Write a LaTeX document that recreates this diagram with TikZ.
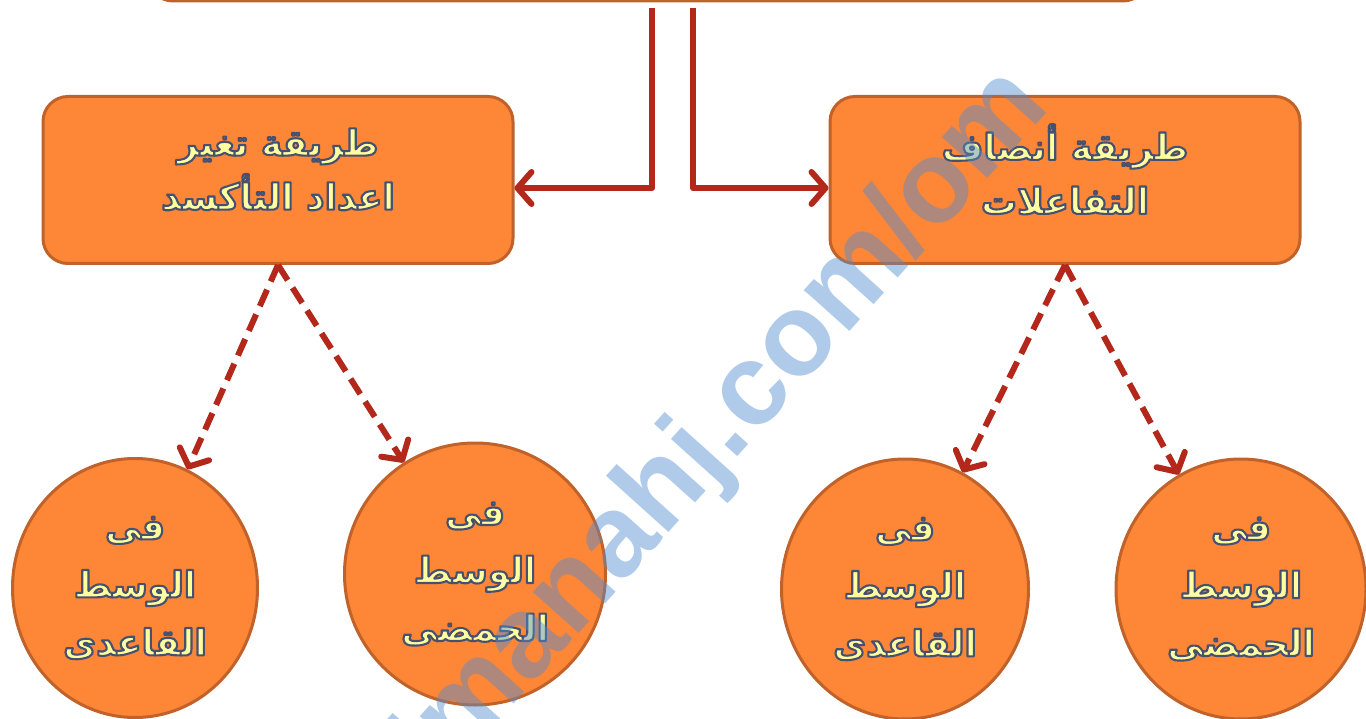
\documentclass[tikz,border=0pt]{standalone}
\usepackage{fontspec}
\usetikzlibrary{shapes.geometric,arrows.meta}
\TeXXeTstate=1
\newfontfamily\arfont[Script=Arabic]{DejaVu Sans}
\newfontfamily\wmfont{Liberation Sans}
\definecolor{boxfill}{RGB}{253,134,55}
\definecolor{boxedge}{RGB}{192,98,42}
\definecolor{arrowred}{RGB}{179,40,26}
\definecolor{txtyellow}{RGB}{255,255,160}
\definecolor{wmblue}{RGB}{80,140,210}
\newcommand{\gl}[1]{\special{pdf:literal direct q 0.275 0.314 0.44 RG 2.1 w 1 j 2 Tr}\beginR #1\endR\special{pdf:literal direct 0 Tr Q}}
\tikzset{
  rbox/.style={draw=boxedge, line width=3pt, fill=boxfill, rounded corners=25pt,
    minimum width=470pt, minimum height=167pt, text=txtyellow, text depth=22pt,
    font=\arfont\bfseries\fontsize{36}{54}\selectfont, align=center},
  oval/.style={ellipse, draw=boxedge, line width=3pt, fill=boxfill, inner sep=0pt,
    text=txtyellow, font=\arfont\bfseries\fontsize{36}{58}\selectfont, align=center},
  link/.style={draw=arrowred, line width=6pt, line join=round,
    -{Straight Barb[length=14pt,width=32pt,round]}},
  dlink/.style={link, dash pattern=on 18pt off 9pt}
}
\begin{document}
\begin{tikzpicture}[x=1pt,y=-1pt]
\path[use as bounding box] (0,0) rectangle (1366,719);
\clip (0,0) rectangle (1366,719);
\fill[white] (0,0) rectangle (1366,719);
\node[draw=boxedge, line width=3pt, fill=boxfill, rounded corners=25pt,
  minimum width=1000pt, minimum height=200pt] (top) at (648,-99) {};
\coordinate (tl) at (652,8);
\coordinate (tr) at (693,8);
\node[rbox] (lbox) at (278,180) {\gl{طريقة تغير}\\\gl{اعداد التأكسد}};
\node[rbox] (rbox) at (1065,180) {\gl{طريقة أنصاف}\\\gl{التفاعلات}};
\node[oval, minimum width=245pt, minimum height=259pt] (c1) at (135,588)
  {\gl{فى}\\\gl{الوسط}\\\gl{القاعدى}};
\node[oval, minimum width=261pt, minimum height=262pt] (c2) at (475,574)
  {\gl{فى}\\\gl{الوسط}\\\gl{الحمضى}};
\node[oval, minimum width=247pt, minimum height=260pt] (c3) at (905,589)
  {\gl{فى}\\\gl{الوسط}\\\gl{القاعدى}};
\node[oval, minimum width=250pt, minimum height=260pt] (c4) at (1241,589)
  {\gl{فى}\\\gl{الوسط}\\\gl{الحمضى}};
\draw[link] (tl) |- ([yshift=-8pt]lbox.east);
\draw[link] (tr) |- ([yshift=-8pt]rbox.west);
\draw[dlink] (lbox.south) -- (c1);
\draw[dlink] (lbox.south) -- (c2);
\draw[dlink] (rbox.south) -- (c3);
\draw[dlink] (rbox.south) -- (c4);
\node[rotate=48, anchor=base west, text=wmblue, opacity=0.45, inner sep=0pt,
  font=\wmfont\bfseries\fontsize{116}{116}\selectfont] (wm) at (396,836) {almanahj.com/om};
\end{tikzpicture}
\end{document}
